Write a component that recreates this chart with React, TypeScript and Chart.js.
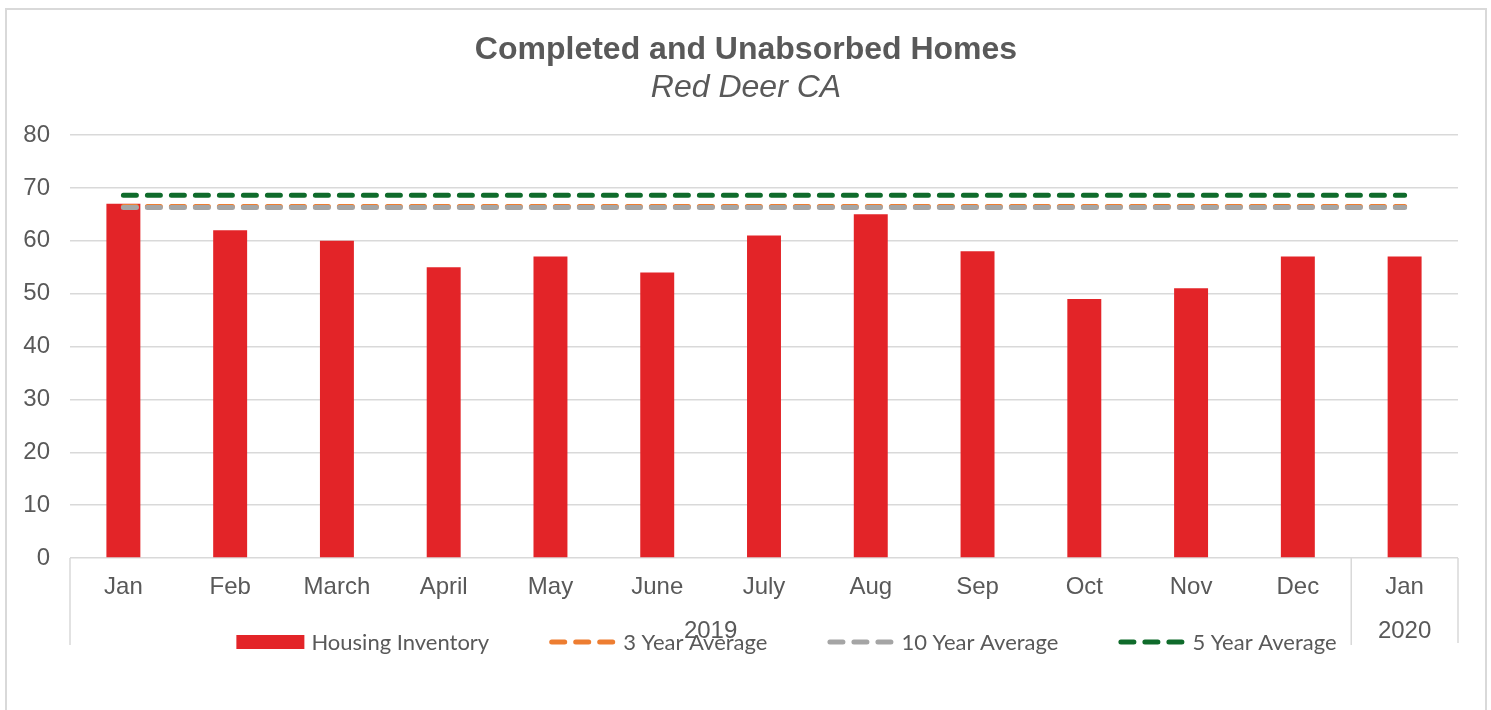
import React, { useEffect, useRef } from 'react';
import { Chart, registerables } from 'chart.js';

Chart.register(...registerables);

const months = ['Jan', 'Feb', 'March', 'April', 'May', 'June', 'July', 'Aug', 'Sep', 'Oct', 'Nov', 'Dec', 'Jan'];
const yearLabels = ['2019', '2020'];
const yearSpans = [12, 1];
const housingInventory = [67, 62, 60, 55, 57, 54, 61, 65, 58, 49, 51, 57, 57];
const threeYearAverage = [66.5, 66.5, 66.5, 66.5, 66.5, 66.5, 66.5, 66.5, 66.5, 66.5, 66.5, 66.5, 66.5];
const tenYearAverage = [66.3, 66.3, 66.3, 66.3, 66.3, 66.3, 66.3, 66.3, 66.3, 66.3, 66.3, 66.3, 66.3];
const fiveYearAverage = [68.6, 68.6, 68.6, 68.6, 68.6, 68.6, 68.6, 68.6, 68.6, 68.6, 68.6, 68.6, 68.6];
const yTicks = [0, 10, 20, 30, 40, 50, 60, 70, 80];

const TEXT = '#595959';
const GRID = '#d9d9d9';
const RED = '#E32428';
const ORANGE = '#ED7D31';
const GREY = '#A5A5A5';
const GREEN = '#0F6B2B';

const groupAxisAndLegend = {
  id: 'groupAxisAndLegend',
  afterDraw(chart: any) {
    const { ctx, chartArea, scales } = chart;
    const xs = scales.x;
    const half = (xs.getPixelForValue(1) - xs.getPixelForValue(0)) / 2;
    ctx.save();
    // group separators and labels
    ctx.strokeStyle = GRID;
    ctx.lineWidth = 1.5;
    ctx.fillStyle = TEXT;
    ctx.font = '24px "Liberation Sans", Arial, sans-serif';
    ctx.textAlign = 'center';
    ctx.textBaseline = 'middle';
    let idx = 0;
    const bottom = chartArea.bottom;
    yearSpans.forEach((span, gi) => {
      const start = xs.getPixelForValue(idx) - half;
      const end = xs.getPixelForValue(idx + span - 1) + half;
      ctx.beginPath();
      ctx.moveTo(start, bottom);
      ctx.lineTo(start, bottom + 87);
      if (gi === yearSpans.length - 1) {
        ctx.moveTo(end, bottom);
        ctx.lineTo(end, bottom + 85);
      }
      ctx.stroke();
      ctx.fillText(yearLabels[gi], (start + end) / 2, bottom + 73);
      idx += span;
    });

    // legend
    const items = [
      { label: 'Housing Inventory', type: 'bar', color: RED },
      { label: '3 Year Average', type: 'line', color: ORANGE },
      { label: '10 Year Average', type: 'line', color: GREY },
      { label: '5 Year Average', type: 'line', color: GREEN },
    ];
    ctx.font = '22px Lato, "Open Sans", sans-serif';
    ctx.textAlign = 'left';
    const sampleW = 66;
    const textGap = 8;
    const itemGap = 60;
    const widths = items.map((it) => sampleW + textGap + ctx.measureText(it.label).width);
    const total = widths.reduce((a, b) => a + b, 0) + itemGap * (items.length - 1);
    let x = 780 - total / 2;
    const ly = bottom + 84;
    items.forEach((it, i) => {
      if (it.type === 'bar') {
        ctx.fillStyle = it.color;
        ctx.fillRect(x - 1, ly - 7, sampleW + 2, 14);
      } else {
        ctx.strokeStyle = it.color;
        ctx.lineWidth = 5;
        ctx.lineCap = 'round';
        ctx.setLineDash([13, 11]);
        ctx.beginPath();
        ctx.moveTo(x + 2.5, ly);
        ctx.lineTo(x + sampleW - 2.5, ly);
        ctx.stroke();
        ctx.setLineDash([]);
      }
      ctx.fillStyle = TEXT;
      ctx.fillText(it.label, x + sampleW + textGap, ly + 1);
      x += widths[i] + itemGap;
    });
    ctx.restore();
  },
};

export default function App() {
  const ref = useRef<HTMLCanvasElement>(null);
  useEffect(() => {
    document.body.style.overflow = 'hidden';
    const lineDs = (label: string, data: number[], color: string, order: number) => ({
      type: 'line' as const,
      label,
      data,
      borderColor: color,
      backgroundColor: color,
      borderWidth: 5,
      borderDash: [13, 11],
      borderCapStyle: 'round' as const,
      pointRadius: 0,
      fill: false,
      order,
    });
    const chart = new Chart(ref.current!, {
      type: 'bar',
      data: {
        labels: months,
        datasets: [
          {
            type: 'bar',
            label: 'Housing Inventory',
            data: housingInventory,
            backgroundColor: RED,
            categoryPercentage: 1,
            barPercentage: 0.318,
            order: 4,
          } as any,
          lineDs('3 Year Average', threeYearAverage, ORANGE, 2),
          lineDs('10 Year Average', tenYearAverage, GREY, 1),
          lineDs('5 Year Average', fiveYearAverage, GREEN, 3),
        ],
      },
      options: {
        responsive: false,
        animation: false,
        layout: { padding: { left: 0, right: 0, top: 0, bottom: 42 } },
        plugins: {
          legend: { display: false },
          tooltip: { enabled: false },
          title: {
            display: true,
            text: 'Completed and Unabsorbed Homes',
            color: TEXT,
            font: { family: '"Liberation Sans", Arial, sans-serif', size: 32, weight: 'bold', lineHeight: 1.1 },
            padding: { top: 23, bottom: 0 },
          },
          subtitle: {
            display: true,
            text: 'Red Deer CA',
            color: TEXT,
            font: { family: '"Liberation Sans", Arial, sans-serif', size: 32, style: 'italic', lineHeight: 1.1 },
            padding: { top: 2, bottom: 29.6 },
          },
        },
        scales: {
          x: {
            grid: { display: false, drawTicks: false },
            border: { display: false },
            ticks: {
              color: TEXT,
              font: { family: '"Liberation Sans", Arial, sans-serif', size: 24 },
              padding: 15,
              maxRotation: 0,
              autoSkip: false,
            },
            afterFit(scale: any) {
              scale.height = 110;
            },
          },
          y: {
            min: 0,
            max: 80,
            afterBuildTicks(scale: any) {
              scale.ticks = yTicks.map((v) => ({ value: v }));
            },
            grid: { color: GRID, lineWidth: 1.5, drawTicks: false },
            border: { display: false },
            ticks: {
              color: TEXT,
              font: { family: '"Liberation Sans", Arial, sans-serif', size: 24 },
              padding: 20,
            },
            afterFit(scale: any) {
              scale.width = 63;
            },
          },
          yRight: {
            position: 'right',
            display: true,
            min: 0,
            max: 80,
            grid: { display: false, drawTicks: false },
            border: { display: false },
            ticks: { display: false },
            afterFit(scale: any) {
              scale.width = 27;
            },
          },
        },
      },
      plugins: [groupAxisAndLegend],
    });
    return () => chart.destroy();
  }, []);
  return (
    <div
      style={{
        position: 'absolute',
        left: 5,
        top: 8,
        width: 1478,
        height: 700,
        border: `2px solid ${GRID}`,
        background: '#fff',
      }}
    >
      <canvas ref={ref} width={1478} height={700} style={{ display: 'block' }} />
    </div>
  );
}
